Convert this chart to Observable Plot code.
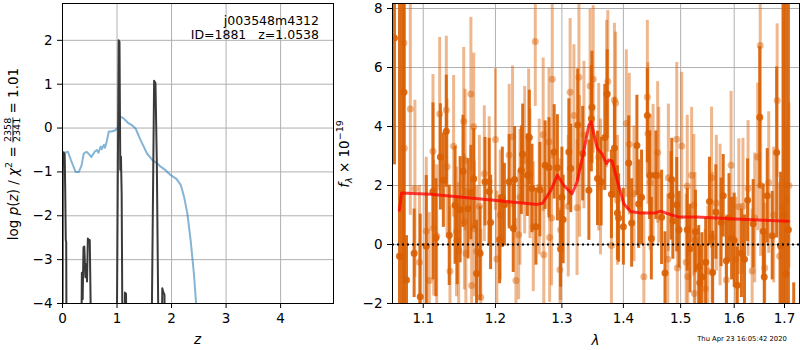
<!DOCTYPE html>
<html><head><meta charset="utf-8">
<script src="https://cdn.jsdelivr.net/npm/d3@7"></script>
<script src="https://cdn.jsdelivr.net/npm/@observablehq/plot@0.6"></script>
<style>
body{margin:0;background:#fff;}
#fig{position:relative;width:800px;height:350px;font-family:"DejaVu Sans",sans-serif;background:#fff;}
#fig svg{position:absolute;top:0;}
#stamp{position:absolute;left:660px;width:164px;text-align:center;top:335px;font-size:6.8px;font-family:"DejaVu Sans";color:#000;}
</style></head><body><div id="fig"><div id="stamp">Thu Apr 23 16:05:42 2020</div></div>
<script>
// ---- left panel: chi2 curve and log p(z)
const zChi = [0.00,0.02,0.05,0.10,0.16,0.24,0.30,0.35,0.39,0.44,0.49,0.53,0.59,0.63,0.66,0.70,0.72,0.76,0.78,0.81,0.85,0.90,0.97,1.02,1.06,1.12,1.20,1.28,1.34,1.43,1.55,1.65,1.74,1.80,1.89,1.98,2.09,2.17,2.23,2.29,2.35,2.41,2.45,2.50];
const chiCurve = [-0.78,-0.62,-0.56,-0.54,-0.75,-1.0,-1.0,-0.85,-0.58,-0.54,-0.6,-0.66,-0.54,-0.5,-0.56,-0.42,-0.48,-0.38,-0.45,-0.31,-0.08,-0.08,-0.05,0.02,0.26,0.22,0.12,0.06,-0.01,-0.27,-0.58,-0.73,-0.81,-0.88,-0.96,-1.07,-1.16,-1.30,-1.57,-1.95,-2.56,-3.32,-4.0,-4.8];
const zPdf = [0.000,0.006,0.020,0.040,0.050,0.060,0.068,0.076,
 0.340,0.355,0.370,0.385,0.400,0.420,0.440,0.450,0.465,0.480,0.500,0.515,0.525,
 0.990,1.030,1.045,1.060,1.072,1.085,1.105,
 1.135,1.145,1.165,1.178,
 1.625,1.680,1.705,1.730,1.770,
 1.815,1.830,1.850,1.870,1.888];
const logPdf = [-6,-0.58,-0.55,-0.6,-1.4,-2.55,-2.6,-6,
 -6,-3.3,-3.9,-2.72,-2.7,-3.4,-3.1,-3.5,-2.52,-2.55,-2.55,-3.9,-6,
 -6,2.0,1.97,-0.95,-0.65,-1.5,-6,
 -6,-3.75,-3.78,-6,
 -6,1.08,1.02,-0.8,-6,
 -6,-3.65,-3.75,-3.8,-6];
const zTicks = [0,1,2,3,4];
const pTicks = [-4,-3,-2,-1,0,1,2];

// ---- right panel: spectrum
const darkLam = [1.0625,1.0690,1.0725,1.0747,1.0780,1.0880,1.0960,1.1040,1.1130,1.1170,1.1230,1.1270,1.1310,1.1350,1.1430,1.1460,1.1500,1.1540,1.1610,1.1650,1.1690,1.1730,1.1780,1.1850,1.1910,1.1930,1.2060,1.2100,1.2130,1.2200,1.2260,1.2280,1.2380,1.2400,1.2470,1.2500,1.2540,1.2600,1.2660,1.2740,1.2800,1.2880,1.2930,1.2980,1.3000,1.3020,1.3110,1.3140,1.3250,1.3330,1.3430,1.3470,1.3480,1.3570,1.3630,1.3690,1.3730,1.3800,1.3850,1.3900,1.3920,1.4000,1.4090,1.4140,1.4230,1.4260,1.4310,1.4410,1.4450,1.4480,1.4560,1.4660,1.4720,1.4830,1.4840,1.4860,1.4930,1.4970,1.5120,1.5170,1.5270,1.5330,1.5350,1.5390,1.5460,1.5530,1.5590,1.5650,1.5750,1.5790,1.5850,1.5900,1.5950,1.6000,1.6060,1.6140,1.6200,1.6260,1.6370,1.6500,1.6570,1.6590,1.6650,1.6750,1.6840,1.6920,1.6980,1.7030,1.7080,1.7190];
const darkFlux = [7.0,-0.4,-0.41,5.16,-1.2,-0.3,-1.77,-0.06,1.80,0.23,2.97,2.18,3.84,0.31,1.33,0.14,1.18,2.48,1.21,1.76,2.23,-0.98,-0.30,2.13,1.80,0.75,0.17,1.60,1.35,2.13,0.55,2.20,2.52,3.06,2.35,3.63,1.90,0.60,1.86,2.69,2.60,3.14,2.60,-0.15,1.60,0.85,3.14,2.58,4.05,3.08,1.84,4.26,4.65,2.24,2.13,3.63,5.10,1.70,3.27,1.07,0.90,0.60,2.76,0.73,3.36,1.37,1.60,4.37,2.35,0.20,2.35,0.92,-0.97,1.65,2.20,0.80,1.35,0.50,0.50,-0.14,0.44,-0.76,-1.30,-1.10,-0.60,1.46,-0.95,1.10,0.75,1.65,-0.55,0.90,0.20,0.14,-1.38,-0.30,-0.50,1.50,0.70,4.31,0.45,-1.10,1.65,0.30,3.12,-0.05,1.00,-1.00,0.50,-2.20];
const darkErr = [4.3,10,9.5,9,1.5,1.5,2.8,2.4,3.0,2.0,1.8,1.6,1.9,1.7,2.0,1.5,1.8,1.9,1.7,1.6,1.7,1.8,1.6,1.5,1.8,1.6,1.5,1.7,1.4,1.6,1.5,1.8,1.5,1.7,1.4,1.6,1.5,1.3,1.6,1.5,1.7,1.6,1.8,1.3,1.7,1.5,1.8,1.5,1.9,1.6,1.7,1.8,1.9,1.6,1.5,1.8,1.5,1.5,1.7,1.6,1.5,1.3,1.6,1.5,1.7,1.5,1.6,1.6,1.5,1.4,1.5,1.6,1.4,1.5,1.4,1.3,1.6,1.3,1.4,1.5,1.4,1.4,1.3,1.5,1.5,1.5,1.4,1.6,1.5,1.4,1.5,1.5,1.4,1.6,1.3,1.5,1.5,1.4,1.5,2.4,1.6,1.5,1.6,1.5,2.9,2.5,10,10,10,0.9];
const lightLam = [1.0747,1.0752,1.0830,1.0890,1.0950,1.1040,1.1080,1.1130,1.1140,1.1180,1.1220,1.1310,1.1320,1.1360,1.1410,1.1450,1.1480,1.1550,1.1560,1.1570,1.1580,1.1650,1.1660,1.1690,1.1700,1.1730,1.1770,1.1790,1.1840,1.1910,1.2000,1.2020,1.2070,1.2200,1.2250,1.2300,1.2340,1.2360,1.2430,1.2490,1.2510,1.2560,1.2590,1.2650,1.2710,1.2720,1.2800,1.2810,1.2840,1.2850,1.2970,1.2980,1.3100,1.3130,1.3190,1.3240,1.3270,1.3280,1.3350,1.3450,1.3500,1.3590,1.3620,1.3720,1.3740,1.3800,1.3850,1.3870,1.3900,1.4050,1.4100,1.4180,1.4350,1.4410,1.4420,1.4460,1.4510,1.4590,1.4610,1.4770,1.4780,1.4930,1.4940,1.5020,1.5100,1.5120,1.5130,1.5200,1.5240,1.5250,1.5260,1.5450,1.5500,1.5570,1.5580,1.5660,1.5730,1.5850,1.5940,1.6030,1.6090,1.6170,1.6270,1.6350,1.6400,1.6460,1.6510,1.6520,1.6600,1.6680,1.6780,1.6850,1.6900,1.6960,1.7030,1.7090];
const lightFlux = [6.83,3.26,4.59,1.89,-0.60,0.46,-1.22,3.16,0.55,0.30,4.42,4.56,2.64,-0.91,3.33,0.43,-0.20,4.18,0.76,2.86,-0.30,5.10,-1.39,3.99,0.53,-0.23,1.30,-1.79,2.40,2.13,3.56,-0.49,1.00,3.03,3.65,-1.22,0.33,1.60,2.86,3.65,2.40,0.60,6.88,1.95,3.72,-0.35,3.48,0.24,0.90,5.60,-0.86,0.50,1.30,5.16,4.37,1.25,5.67,2.65,3.71,5.37,5.60,2.96,1.95,5.10,5.53,-0.03,4.90,4.80,1.50,4.10,3.40,1.72,-1.09,5.00,3.76,2.10,2.35,3.12,2.35,-0.50,2.26,3.57,-0.80,3.34,-0.60,1.98,-1.09,2.35,1.33,-1.66,0.14,-1.50,-0.90,2.26,0.25,1.40,1.00,-1.20,2.69,-0.50,1.28,1.30,1.90,-0.90,0.90,2.97,6.75,2.00,-0.80,2.10,1.00,4.88,-0.40,1.26,1.50,2.00];
const lightErr = [8,7,3.6,3.0,2.6,2.5,2.3,2.6,2.3,2.4,2.6,2.5,2.3,2.2,2.4,2.2,2.3,2.5,2.3,2.4,2.2,2.6,2.1,2.5,2.3,2.2,2.4,2.3,2.3,2.2,2.4,2.3,2.2,2.4,2.4,2.1,2.2,2.3,2.5,2.3,2.2,2.2,2.2,2.3,2.6,2.2,2.5,2.2,2.3,2.7,2.1,2.4,2.4,2.5,2.4,2.3,2.6,2.4,2.5,2.6,2.5,2.5,2.3,2.5,2.4,2.3,2.6,2.4,2.2,2.5,2.4,2.3,2.2,2.6,2.4,2.3,2.4,2.4,2.3,2.2,2.5,2.6,2.2,2.5,2.3,2.4,2.2,2.3,2.4,2.1,2.3,2.0,2.2,2.4,2.2,2.3,2.4,2.2,2.5,2.1,2.3,2.3,2.3,2.1,2.2,2.5,2.6,2.4,2.2,2.4,2.3,2.6,2.5,10,2.5,2.8];
const modelLam = [1.0688,1.0717,1.1102,1.198,1.232,1.262,1.270,1.283,1.293,1.303,1.316,1.324,1.335,1.343,1.3467,1.351,1.3566,1.3648,1.3717,1.3755,1.3813,1.3895,1.4008,1.412,1.429,1.455,1.464,1.476,1.4966,1.530,1.5925,1.658,1.708];
const modelFlux = [1.16,1.75,1.70,1.50,1.42,1.36,1.40,1.84,2.35,2.0,1.72,2.12,3.2,4.05,4.16,3.76,3.26,3.06,2.74,2.86,2.83,2.18,1.38,1.12,1.07,1.07,1.13,1.05,0.93,0.93,0.87,0.82,0.79];
const lamTicks = [1.1,1.2,1.3,1.4,1.5,1.6,1.7];
const fTicks = [-2,0,2,4,6,8];

// ---- build
const chiData = zChi.map((z,i)=>({z, v: chiCurve[i]}));
const pdfData = zPdf.map((z,i)=>({z, v: logPdf[i]}));
const dark = darkLam.map((l,i)=>({lam:l, f:darkFlux[i], e:darkErr[i]}));
const light = lightLam.map((l,i)=>({lam:l, f:lightFlux[i], e:lightErr[i]}));
const model = modelLam.map((l,i)=>({lam:l, f:modelFlux[i]}));

const style = {fontFamily:"DejaVu Sans", fontSize:"13.5px", background:"transparent", overflow:"visible", color:"black"};
const gridStyle = {stroke:"#b0b0b0", strokeOpacity:1, strokeWidth:1};
const ORANGE = "#d95f02";
const intFmt = d3.format("d");

const left = Plot.plot({
  width:340, height:350, marginLeft:62, marginRight:7, marginTop:3, marginBottom:47,
  style,
  x:{domain:[0,4.97]},
  y:{domain:[-4,2.84]},
  marks:[
    Plot.gridX(zTicks, gridStyle),
    Plot.gridY(pTicks, gridStyle),
    Plot.line(chiData, {x:"z", y:"v", stroke:"#1f77b4", strokeOpacity:0.55, strokeWidth:2, clip:true}),
    Plot.line(pdfData, {x:"z", y:"v", stroke:"#3a3a3a", strokeWidth:2, clip:true}),
    Plot.axisX({ticks:zTicks, tickFormat:intFmt, tickSize:5, tickPadding:5, label:null}),
    Plot.axisY({ticks:pTicks, tickFormat:intFmt, tickSize:5, tickPadding:5, label:null}),
    Plot.frame({stroke:"black"})
  ]
});

const right = Plot.plot({
  width:460, height:350, marginLeft:52, marginRight:1, marginTop:3, marginBottom:47,
  style,
  x:{type:"log", domain:[1.06,1.731]},
  y:{domain:[-2,8.17]},
  marks:[
    Plot.gridX(lamTicks, gridStyle),
    Plot.gridY(fTicks, gridStyle),
    Plot.ruleX(light, {x:"lam", y1:d=>d.f-d.e, y2:d=>d.f+d.e, stroke:ORANGE, strokeOpacity:0.45, strokeWidth:3, clip:true}),
    Plot.dot(light, {x:"lam", y:"f", r:3.5, fill:ORANGE, fillOpacity:0.45, clip:true}),
    Plot.ruleX(dark, {x:"lam", y1:d=>d.f-d.e, y2:d=>d.f+d.e, stroke:ORANGE, strokeOpacity:0.9, strokeWidth:3, clip:true}),
    Plot.dot(dark, {x:"lam", y:"f", r:3.5, fill:ORANGE, fillOpacity:0.9, clip:true}),
    Plot.ruleY([0], {stroke:"black", strokeWidth:2, strokeDasharray:"2,3"}),
    Plot.line(model, {x:"lam", y:"f", stroke:"red", strokeOpacity:0.75, strokeWidth:3, clip:true}),
    Plot.axisX({ticks:lamTicks, tickFormat:d3.format(".1f"), tickSize:5, tickPadding:5, label:null}),
    Plot.axisY({ticks:fTicks, tickFormat:intFmt, tickSize:5, tickPadding:5, label:null}),
    Plot.frame({stroke:"black"})
  ]
});

const fig = document.getElementById("fig");
left.style.left = "0px";
right.style.left = "340px";
fig.appendChild(left);
fig.appendChild(right);

// left annotations
const L = d3.select(left);
const ann = L.append("g").attr("font-family","DejaVu Sans").attr("font-size",12.5).attr("text-anchor","end").attr("fill","black");
ann.append("text").attr("x",319).attr("y",24.5).text("j003548m4312");
ann.append("text").attr("x",319).attr("y",39.3).style("white-space","pre").text("ID=1881   z=1.0538");

// left x label
L.append("text").attr("x",197.5).attr("y",344).attr("text-anchor","middle").attr("font-family","DejaVu Sans").attr("font-size",13.5).attr("font-style","italic").text("z");

// left y label: one text element, fraction made with dy/dx shifts
const SM = 9.5, DIGW = 4*0.636*SM;
const yl = L.append("text")
  .attr("transform","translate(12.5,154) rotate(-90)")
  .attr("y",5).attr("text-anchor","middle")
  .attr("font-family","DejaVu Sans").attr("font-size",13.5).attr("fill","black")
  .style("white-space","pre");
yl.append("tspan").text("log ");
yl.append("tspan").attr("font-style","italic").text("p");
yl.append("tspan").text("(");
yl.append("tspan").attr("font-style","italic").text("z");
yl.append("tspan").text(") / ");
yl.append("tspan").attr("font-style","italic").text("χ");
yl.append("tspan").attr("font-size",SM).attr("dy",-5.8).text("2");
yl.append("tspan").attr("dy",5.8).text(" = ");
yl.append("tspan").attr("font-size",SM).attr("dy",-6.2).text("2358");
yl.append("tspan").attr("font-size",SM).attr("dx",-DIGW).attr("dy",8.8).text("2341");
yl.append("tspan").attr("dy",-2.6).text(" = 1.01");
// fraction bar, positioned from the laid-out numerator
try {
  const node = yl.node();
  const s = node.getStartPositionOfChar(16), e = node.getEndPositionOfChar(19);
  L.append("line").attr("transform","translate(12.5,154) rotate(-90)")
    .attr("x1", s.x - 0.5).attr("x2", e.x + 0.5).attr("y1", 0.4).attr("y2", 0.4)
    .attr("stroke","black").attr("stroke-width",0.8);
} catch (err) {}

// right labels
const R = d3.select(right);
R.append("text").attr("x",255.5).attr("y",345).attr("text-anchor","middle").attr("font-family","DejaVu Sans").attr("font-size",13.5).attr("font-style","italic").text("λ");
const ry = R.append("text").attr("transform","translate(3.5,154) rotate(-90)").attr("y",5).attr("text-anchor","middle").attr("font-family","DejaVu Sans").attr("font-size",13.5).style("white-space","pre");
ry.append("tspan").attr("font-style","italic").text("f");
ry.append("tspan").attr("font-style","italic").attr("font-size",SM).attr("dy",3).text("λ");
ry.append("tspan").attr("dy",-3).text(" × 10");
ry.append("tspan").attr("font-size",SM).attr("dy",-5.5).text("−19");
</script></body></html>
